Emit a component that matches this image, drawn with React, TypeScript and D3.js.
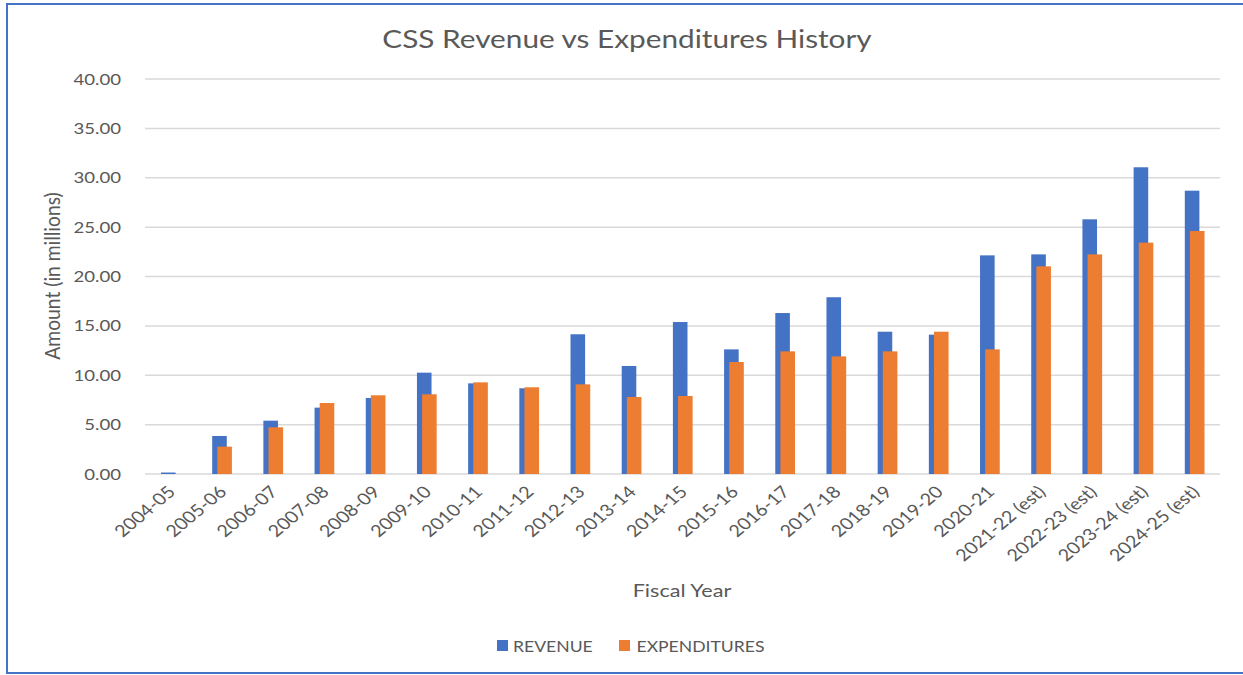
import React from "react";
import * as d3 from "d3";

const categories = [
  "2004-05", "2005-06", "2006-07", "2007-08", "2008-09", "2009-10", "2010-11",
  "2011-12", "2012-13", "2013-14", "2014-15", "2015-16", "2016-17", "2017-18",
  "2018-19", "2019-20", "2020-21", "2021-22 (est)", "2022-23 (est)",
  "2023-24 (est)", "2024-25 (est)",
];
const revenue = [
  0.15, 3.85, 5.4, 6.72, 7.7, 10.26, 9.18, 8.68, 14.15, 10.94, 15.39, 12.62,
  16.3, 17.9, 14.41, 14.11, 22.14, 22.24, 25.79, 31.06, 28.69,
];
const expenditures = [
  0, 2.77, 4.73, 7.19, 7.97, 8.07, 9.28, 8.78, 9.08, 7.8, 7.9, 11.34, 12.42,
  11.91, 12.42, 14.41, 12.62, 21.03, 22.24, 23.43, 24.61,
];
const yTicks = [0, 5, 10, 15, 20, 25, 30, 35, 40];
const seriesNames = ["REVENUE", "EXPENDITURES"];
const seriesColors = ["#4472C4", "#ED7D31"];

const W = 1243;
const H = 675;
const SX = 1.2;
const FONT = "Lato, 'Open Sans', sans-serif";
const TEXT = "#595959";

export default function App() {
  const x = d3.scaleBand<string>().domain(categories).range([145, 1220]).padding(0);
  const y = d3.scaleLinear().domain([0, 40]).range([474, 79]);
  const bw = x.bandwidth();
  const barW = bw * 0.285;
  const off = bw * 0.1;

  const st = (tx: number, ty: number, extra = "", sx = SX) =>
    `translate(${tx},${ty}) scale(${sx},1)${extra ? " " + extra : ""}`;

  return (
    <svg
      width={W}
      height={H}
      style={{ position: "absolute", left: 0, top: 0, display: "block", background: "#fff" }}
      fontFamily={FONT}
    >
      <rect x={0} y={0} width={W} height={H} fill="#fff" />
      {/* frame */}
      <rect x={7} y={4} width={W + 10} height={669} fill="none" stroke="#4472C4" strokeWidth={2} />

      {/* title */}
      <text transform={st(627, 48)} textAnchor="middle" fontSize={24.8} fill={TEXT}>
        CSS Revenue vs Expenditures History
      </text>

      {/* gridlines */}
      {yTicks.map((t) => (
        <line key={t} x1={145} x2={1220} y1={y(t)} y2={y(t)} stroke="#d9d9d9" strokeWidth={1.5} />
      ))}

      {/* y tick labels */}
      {yTicks.map((t) => (
        <text key={"l" + t} transform={st(121, y(t) + 5.5)} textAnchor="end" fontSize={15.5} fill={TEXT}>
          {t.toFixed(2)}
        </text>
      ))}

      {/* bars */}
      {categories.map((c, i) => {
        const cx = (x(c) as number) + bw / 2;
        return (
          <g key={c}>
            {revenue[i] > 0 && (
              <rect
                x={cx - 9.6}
                y={y(revenue[i])}
                width={barW}
                height={y(0) - y(revenue[i])}
                fill={seriesColors[0]}
              />
            )}
            {expenditures[i] > 0 && (
              <rect
                x={cx - 9.6 + off}
                y={y(expenditures[i])}
                width={barW}
                height={y(0) - y(expenditures[i])}
                fill={seriesColors[1]}
              />
            )}
          </g>
        );
      })}

      {/* x labels */}
      {categories.map((c) => {
        const cx = (x(c) as number) + bw / 2;
        return (
          <text
            key={"x" + c}
            transform={st(cx + 6, 493, "rotate(-45)")}
            textAnchor="end"
            fontSize={16.5}
            fill={TEXT}
          >
            {c}
          </text>
        );
      })}

      {/* axis titles */}
      <text transform={st(682, 597)} textAnchor="middle" fontSize={18} fill={TEXT}>
        Fiscal Year
      </text>
      <text transform={st(60, 276, "rotate(-90)", 1.1)} textAnchor="middle" fontSize={19.3} fill={TEXT}>
        Amount (in millions)
      </text>

      {/* legend */}
      <rect x={497} y={640} width={11} height={11} fill={seriesColors[0]} />
      <text transform={st(513, 651.5, "", 1.1)} fontSize={16} fill={TEXT}>
        {seriesNames[0]}
      </text>
      <rect x={619} y={640} width={11} height={11} fill={seriesColors[1]} />
      <text transform={st(636.5, 651.5, "", 1.1)} fontSize={16} fill={TEXT}>
        {seriesNames[1]}
      </text>
    </svg>
  );
}
